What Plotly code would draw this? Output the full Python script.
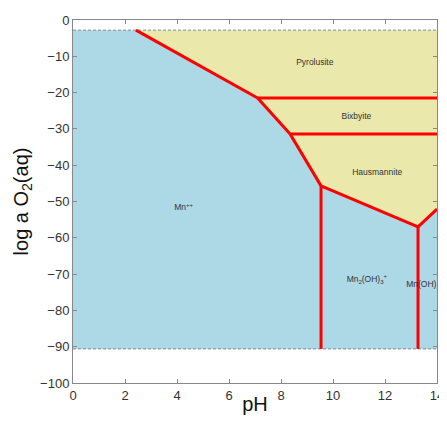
import plotly.graph_objects as go

# O2(aq) stability limits of water
o2_top = -2.8
o2_bot = -90.6
ph_range = [0, 14]

# field boundaries (pH, log a O2)
mn_pyro_x = [2.42, 7.1]
mn_pyro_y = [-2.8, -21.5]
mn_bix_x = [7.1, 8.35]
mn_bix_y = [-21.5, -31.4]
mn_haus_x = [8.35, 9.54]
mn_haus_y = [-31.4, -45.7]
mn2_haus_x = [9.54, 13.27]
mn2_haus_y = [-45.7, -57.0]
mnoh3_haus_x = [13.27, 14.0]
mnoh3_haus_y = [-57.0, -52.1]
pyro_bix_x = [7.1, 14.0]
pyro_bix_y = [-21.5, -21.5]
bix_haus_x = [8.35, 14.0]
bix_haus_y = [-31.4, -31.4]
mn_mn2_x = [9.54, 9.54]
mn_mn2_y = [-45.7, -90.6]
mn2_mnoh3_x = [13.27, 13.27]
mn2_mnoh3_y = [-57.0, -90.6]

# labels
label_text = ["Pyrolusite", "Bixbyite", "Hausmannite", "Mn<sup>++</sup>",
              "Mn<sub>2</sub>(OH)<sub>3</sub><sup>+</sup>", "Mn(OH)<sub>3</sub><sup>-</sup>"]
label_x = [9.3, 10.9, 11.7, 4.25, 11.3, 13.5]
label_y = [-11.8, -26.7, -42.2, -51.8, -71.6, -73.0]

BLUE = "#ADD8E6"
YELLOW = "#EAE8AA"
RED = "#FF0000"

# mineral-aqueous boundary chain
chain_x = [mn_pyro_x[0], mn_bix_x[0], mn_haus_x[0], mn2_haus_x[0], mnoh3_haus_x[0], mnoh3_haus_x[1]]
chain_y = [mn_pyro_y[0], mn_bix_y[0], mn_haus_y[0], mn2_haus_y[0], mnoh3_haus_y[0], mnoh3_haus_y[1]]

fig = go.Figure()

blue_x = [ph_range[0]] + chain_x + [ph_range[1], ph_range[0]]
blue_y = [o2_top] + chain_y + [o2_bot, o2_bot]
fig.add_trace(go.Scatter(x=blue_x, y=blue_y, fill="toself", fillcolor=BLUE,
                         line=dict(width=0), mode="lines", hoverinfo="skip"))

yel_x = chain_x + [ph_range[1]]
yel_y = chain_y + [o2_top]
fig.add_trace(go.Scatter(x=yel_x, y=yel_y, fill="toself", fillcolor=YELLOW,
                         line=dict(width=0), mode="lines", hoverinfo="skip"))

for yy in (o2_top, o2_bot):
    fig.add_trace(go.Scatter(x=ph_range, y=[yy, yy], mode="lines",
                             line=dict(color="#7f8a96", width=1, dash="3px,2px"), hoverinfo="skip"))

for bx, by in [(mn_pyro_x, mn_pyro_y), (mn_bix_x, mn_bix_y), (mn_haus_x, mn_haus_y),
               (mn2_haus_x, mn2_haus_y), (mnoh3_haus_x, mnoh3_haus_y),
               (pyro_bix_x, pyro_bix_y), (bix_haus_x, bix_haus_y),
               (mn_mn2_x, mn_mn2_y), (mn2_mnoh3_x, mn2_mnoh3_y)]:
    fig.add_trace(go.Scatter(x=bx, y=by, mode="lines", line=dict(color=RED, width=3),
                             hoverinfo="skip"))

fig.add_trace(go.Scatter(x=label_x, y=label_y, mode="text", text=label_text,
                         textfont=dict(size=8.5, color="#333333", family="Liberation Sans"),
                         cliponaxis=True, hoverinfo="skip"))

axis_common = dict(showgrid=False, zeroline=False, showline=True, linecolor="#888888",
                   linewidth=1, mirror="ticks", ticks="inside", ticklen=4, tickcolor="#888888",
                   automargin=False, ticklabeloverflow="allow",
                   tickfont=dict(size=13, color="#333333", family="Liberation Sans"))
fig.update_xaxes(range=ph_range, dtick=2, title=dict(text="pH", font=dict(size=20, color="#111111"), standoff=3),
                 **axis_common)
fig.update_yaxes(range=[-100, 0], dtick=10, title=dict(text="log a O<sub>2</sub>(aq)", font=dict(size=20, color="#111111"), standoff=6),
                 **axis_common)

fig.update_layout(width=439, height=407, margin=dict(l=65, r=10, t=12, b=32),
                  plot_bgcolor="white", paper_bgcolor="white", showlegend=False,
                  font=dict(family="Liberation Sans"))

fig.write_html("out.html")
